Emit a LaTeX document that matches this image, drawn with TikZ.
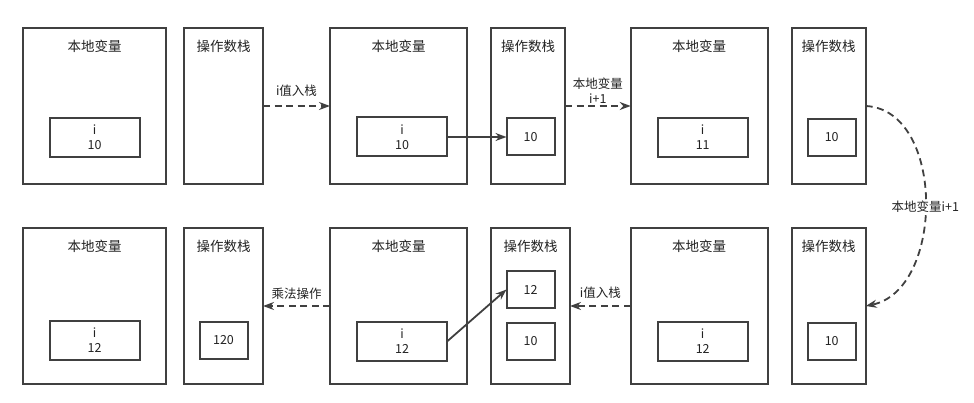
\documentclass[tikz,border=0pt]{standalone}
\usepackage{fontspec}
\setmainfont{Noto Sans CJK SC}
\definecolor{framegray}{HTML}{404040}
\definecolor{textgray}{HTML}{222222}
\usetikzlibrary{arrows.meta, positioning}

\begin{document}
\begin{tikzpicture}[x=1pt, y=1pt,
                frame/.style={rectangle, draw=framegray, line width=2pt,
                              minimum height=156pt, inner sep=0pt, outer sep=0pt},
                lvframe/.style={frame, minimum width=137pt},
                stkframe/.style={frame, minimum width=74pt},
                title/.style={inner sep=0pt, text=textgray,
                              font=\fontsize{13.5}{16}\selectfont},
                cell/.style={rectangle, draw=framegray, line width=2pt, align=center,
                             outer sep=0pt, text=textgray, font=\fontsize{12.5}{15}\selectfont},
                varcell/.style={cell, minimum width=90pt, minimum height=39pt},
                valcell/.style={cell, minimum width=48pt, minimum height=37pt},
                arr/.style={-{Stealth[length=11pt, width=8pt]}, line width=1.8pt, framegray},
                darr/.style={arr, dash pattern=on 7pt off 4.5pt},
                lbl/.style={inner sep=1pt, align=center, text=textgray,
                            font=\fontsize{12.5}{15}\selectfont}
            ]
                \useasboundingbox (0,0) rectangle (974,-403);

                % top row
                \node[lvframe, minimum width=143pt] (locA) at (94.5,-106) {};
                \node[stkframe, minimum width=79pt, right=18pt of locA] (stkA) {};
                \node[lvframe, right=67pt of stkA] (locB) {};
                \node[stkframe, right=24pt of locB] (stkB) {};
                \node[lvframe, right=65.7pt of stkB] (locC) {};
                \node[stkframe, right=24pt of locC] (stkC) {};

                % bottom row
                \node[lvframe, minimum width=143pt, below=44pt of locA] (locD) {};
                \node[stkframe, minimum width=79pt, below=44pt of stkA] (stkD) {};
                \node[lvframe, below=44pt of locB] (locE) {};
                \node[stkframe, minimum width=79pt, below=44pt of stkB, xshift=2.5pt] (stkE) {};
                \node[lvframe, below=44pt of locC] (locF) {};
                \node[stkframe, below=44pt of stkC] (stkF) {};

                \node[title, below=12pt of locA.north] (locA-t) {本地变量};
                \node[title, below=12pt of stkA.north] (stkA-t) {操作数栈};
                \node[title, below=12pt of locB.north] (locB-t) {本地变量};
                \node[title, below=12pt of stkB.north] (stkB-t) {操作数栈};
                \node[title, below=12pt of locC.north] (locC-t) {本地变量};
                \node[title, below=12pt of stkC.north] (stkC-t) {操作数栈};
                \node[title, below=12pt of locD.north] (locD-t) {本地变量};
                \node[title, below=12pt of stkD.north] (stkD-t) {操作数栈};
                \node[title, below=12pt of locE.north] (locE-t) {本地变量};
                \node[title, below=12pt of stkE.north] (stkE-t) {操作数栈};
                \node[title, below=12pt of locF.north] (locF-t) {本地变量};
                \node[title, below=12pt of stkF.north] (stkF-t) {操作数栈};

                % cells
                \node[varcell, above=27pt of locA.south] (varA) {i\\10};
                \node[varcell, above=27.5pt of locB.south, xshift=3.5pt] (varB) {i\\10};
                \node[valcell, above=28.5pt of stkB.south, xshift=2.5pt] (valB) {10};
                \node[varcell, above=27pt of locC.south, xshift=3.5pt] (varC) {i\\11};
                \node[valcell, above=28pt of stkC.south, xshift=3pt] (valC) {10};
                \node[varcell, above=24pt of locD.south] (varD) {i\\12};
                \node[valcell, above=25pt of stkD.south] (valD) {120};
                \node[varcell, above=23pt of locE.south, xshift=3.5pt] (varE) {i\\12};
                \node[valcell, above=76pt of stkE.south] (valE1) {12};
                \node[valcell, above=24pt of stkE.south] (valE2) {10};
                \node[varcell, above=23pt of locF.south, xshift=3.5pt] (varF) {i\\12};
                \node[valcell, above=24pt of stkF.south, xshift=3pt] (valF) {10};

                % connectors
                \draw[darr] (stkA) -- node[lbl, above=8pt] (pushA) {i值入栈} (locB);
                \draw[arr] (varB) -- (valB);
                \draw[darr] (stkB) -- node[lbl, above=1pt] (incA) {本地变量\\i+1} (locC);
                \draw[darr] (stkC.east) .. controls +(80pt,-4pt) and +(79pt,16pt) .. (stkF.east)
                    node[lbl, pos=0.5, yshift=-5pt, fill=white] (incB) {本地变量i+1};
                \draw[darr] (locE) -- node[lbl, above=5pt] (mulA) {乘法操作} (stkD);
                \draw[arr] (varE.east) -- (valE1.west);
                \draw[darr] (locF) -- node[lbl, above=6pt] (pushB) {i值入栈} (stkE);
            \end{tikzpicture}
\end{document}
